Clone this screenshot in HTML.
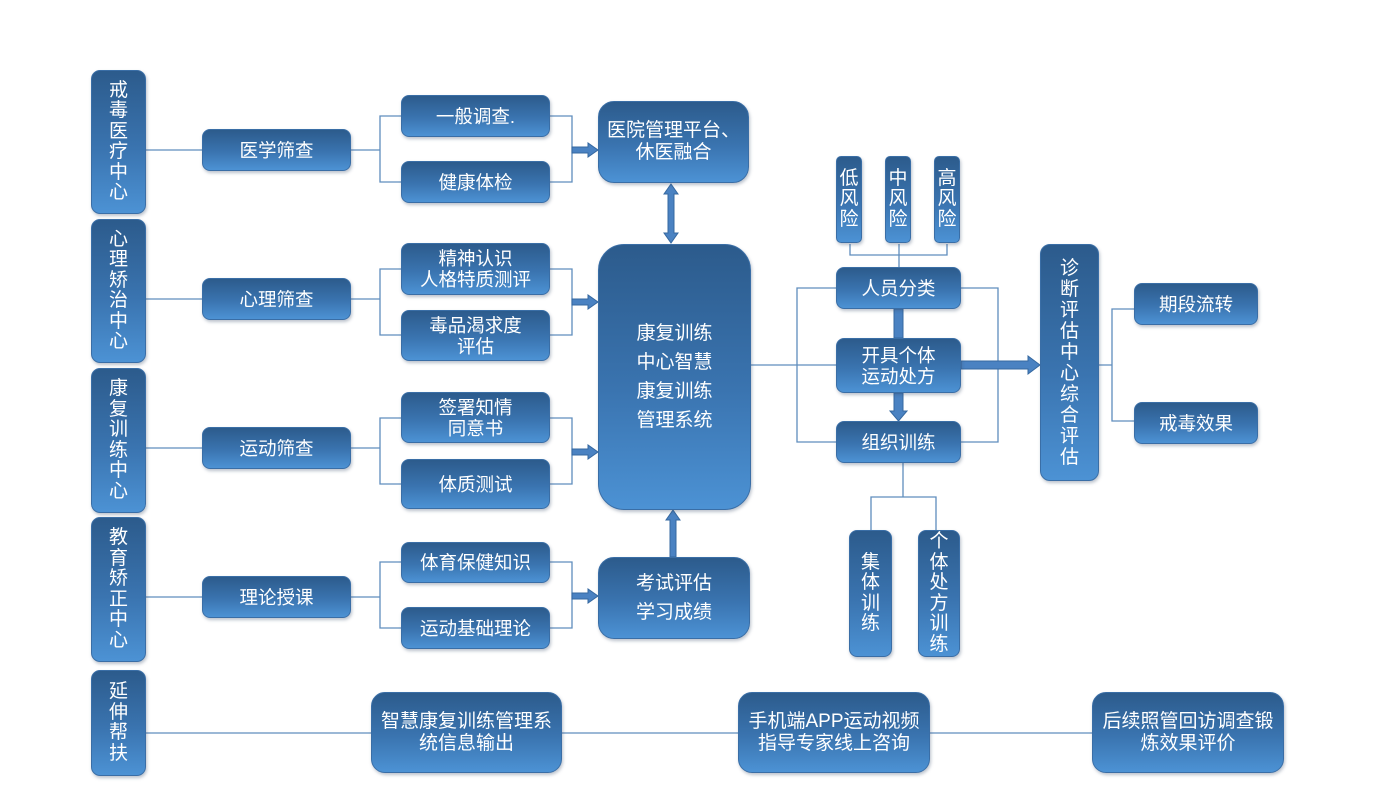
<!DOCTYPE html>
<html><head><meta charset="utf-8">
<style>
html,body{margin:0;padding:0;background:#fff;}
body{width:1390px;height:795px;position:relative;overflow:hidden;font-family:"Liberation Sans","Noto Sans CJK SC",sans-serif;}
.b{position:absolute;box-sizing:border-box;color:#fff;display:flex;align-items:center;justify-content:center;text-align:center;
background:linear-gradient(to bottom,#2c5b8c 0%,#3a74b0 55%,#4c92d4 100%);
border-radius:8px;box-shadow:1px 2px 3px rgba(60,80,110,0.35);font-size:18.5px;line-height:21px;border:1px solid #3a6ea6;}
.v{line-height:20.5px;font-size:19px;}
svg{position:absolute;left:0;top:0;}
</style></head><body>
<svg width="1390" height="795" viewBox="0 0 1390 795">
<g stroke="#5f8dbd" stroke-width="1.3" fill="none">
<!-- left col to col2 -->
<line x1="146" y1="150" x2="202" y2="150"/>
<line x1="146" y1="299" x2="202" y2="299"/>
<line x1="146" y1="448" x2="202" y2="448"/>
<line x1="146" y1="597" x2="202" y2="597"/>
<!-- col2 brackets -->
<path d="M351 150 H380 M401 116 H380 V182 H401"/>
<path d="M351 299 H380 M401 269 H380 V335 H401"/>
<path d="M351 448 H380 M401 418 H380 V484 H401"/>
<path d="M351 597 H380 M401 562 H380 V628 H401"/>
<!-- col3 right brackets -->
<path d="M550 116 H572 V182 H550"/>
<path d="M550 269 H572 V335 H550"/>
<path d="M550 418 H572 V484 H550"/>
<path d="M550 562 H572 V628 H550"/>
<!-- big box to classification -->
<line x1="751" y1="365" x2="836" y2="365"/>
<path d="M836 288 H797 V442 H836"/>
<path d="M961 288 H998 V442 H961"/>
<!-- risk connectors -->
<path d="M850 244 V255 H947 V244"/>
<line x1="899" y1="244" x2="899" y2="267"/>
<!-- 组织训练 to bottom -->
<path d="M903 463 V497"/>
<path d="M871 530 V497 H936 V530"/>
<!-- diag to right -->
<path d="M1099 365 H1112 M1134 309 H1112 V421 H1134"/>
<!-- bottom line -->
<line x1="146" y1="733" x2="1093" y2="733"/>
</g>
<g fill="#4a82c2" stroke="#3568a0" stroke-width="1">
<!-- column3 -> column4 arrows -->
<polygon points="572,147 588,147 588,143 598,150 588,157 588,153 572,153"/>
<polygon points="572,299 588,299 588,295 598,302 588,309 588,305 572,305"/>
<polygon points="572,449 588,449 588,445 598,452 588,459 588,455 572,455"/>
<polygon points="572,593 588,593 588,589 598,596 588,603 588,599 572,599"/>
<!-- double vertical -->
<polygon points="671,184 678,194 674,194 674,233 678,233 671,243 664,233 668,233 668,194 664,194"/>
<!-- up arrow from exam -->
<polygon points="673,510 680,520 676,520 676,557 670,557 670,520 666,520"/>
<!-- 人员分类 -> 开具 -->
<rect x="894" y="309" width="9" height="29"/>
<!-- 开具 -> 组织 -->
<polygon points="894,393 903,393 903,411 907,411 898.5,421 890,411 894,411"/>
<!-- 开具 -> 诊断 -->
<polygon points="961,361 1028,361 1028,356 1040,365 1028,374 1028,369 961,369"/>
</g>
</svg>

<!-- left column -->
<div class="b v" style="left:91px;top:70px;width:55px;height:144px;border-radius:9px;">戒<br>毒<br>医<br>疗<br>中<br>心</div>
<div class="b v" style="left:91px;top:219px;width:55px;height:144px;border-radius:9px;">心<br>理<br>矫<br>治<br>中<br>心</div>
<div class="b v" style="left:91px;top:368px;width:55px;height:145px;border-radius:9px;">康<br>复<br>训<br>练<br>中<br>心</div>
<div class="b v" style="left:91px;top:517px;width:55px;height:145px;border-radius:9px;">教<br>育<br>矫<br>正<br>中<br>心</div>
<div class="b v" style="left:91px;top:670px;width:55px;height:106px;border-radius:9px;">延<br>伸<br>帮<br>扶</div>

<!-- col2 -->
<div class="b" style="left:202px;top:129px;width:149px;height:42px;">医学筛查</div>
<div class="b" style="left:202px;top:278px;width:149px;height:42px;">心理筛查</div>
<div class="b" style="left:202px;top:427px;width:149px;height:42px;">运动筛查</div>
<div class="b" style="left:202px;top:576px;width:149px;height:42px;">理论授课</div>

<!-- col3 -->
<div class="b" style="left:401px;top:95px;width:149px;height:42px;">一般调查.</div>
<div class="b" style="left:401px;top:161px;width:149px;height:42px;">健康体检</div>
<div class="b" style="left:401px;top:243px;width:149px;height:52px;">精神认识<br>人格特质测评</div>
<div class="b" style="left:401px;top:310px;width:149px;height:51px;">毒品渴求度<br>评估</div>
<div class="b" style="left:401px;top:392px;width:149px;height:51px;">签署知情<br>同意书</div>
<div class="b" style="left:401px;top:459px;width:149px;height:50px;">体质测试</div>
<div class="b" style="left:401px;top:542px;width:149px;height:41px;">体育保健知识</div>
<div class="b" style="left:401px;top:607px;width:149px;height:42px;">运动基础理论</div>

<!-- col4 -->
<div class="b" style="left:598px;top:101px;width:151px;height:82px;border-radius:16px;line-height:22px;font-size:19px;">医院管理平台、<br>休医融合</div>
<div class="b" style="left:598px;top:244px;width:153px;height:266px;border-radius:26px;line-height:29px;font-size:19px;">康复训练<br>中心智慧<br>康复训练<br>管理系统</div>
<div class="b" style="left:598px;top:557px;width:152px;height:82px;border-radius:16px;line-height:29px;font-size:19px;">考试评估<br>学习成绩</div>

<!-- risk -->
<div class="b v" style="left:836px;top:156px;width:26px;height:87px;border-radius:5px;">低<br>风<br>险</div>
<div class="b v" style="left:885px;top:156px;width:26px;height:87px;border-radius:5px;">中<br>风<br>险</div>
<div class="b v" style="left:934px;top:156px;width:26px;height:87px;border-radius:5px;">高<br>风<br>险</div>

<div class="b" style="left:836px;top:267px;width:125px;height:42px;">人员分类</div>
<div class="b" style="left:836px;top:338px;width:125px;height:55px;">开具个体<br>运动处方</div>
<div class="b" style="left:836px;top:421px;width:125px;height:42px;">组织训练</div>

<div class="b v" style="left:849px;top:530px;width:43px;height:127px;">集<br>体<br>训<br>练</div>
<div class="b v" style="left:918px;top:530px;width:42px;height:127px;">个<br>体<br>处<br>方<br>训<br>练</div>

<div class="b v" style="left:1040px;top:244px;width:59px;height:237px;border-radius:10px;line-height:21px;">诊<br>断<br>评<br>估<br>中<br>心<br>综<br>合<br>评<br>估</div>

<div class="b" style="left:1134px;top:283px;width:124px;height:42px;">期段流转</div>
<div class="b" style="left:1134px;top:402px;width:124px;height:42px;">戒毒效果</div>

<!-- bottom -->
<div class="b" style="left:371px;top:692px;width:191px;height:81px;border-radius:14px;font-size:19px;line-height:22px;">智慧康复训练管理系<br>统信息输出</div>
<div class="b" style="left:738px;top:692px;width:192px;height:81px;border-radius:14px;font-size:19px;line-height:22px;">手机端APP运动视频<br>指导专家线上咨询</div>
<div class="b" style="left:1092px;top:692px;width:192px;height:81px;border-radius:14px;font-size:19px;line-height:22px;">后续照管回访调查锻<br>炼效果评价</div>
</body></html>
